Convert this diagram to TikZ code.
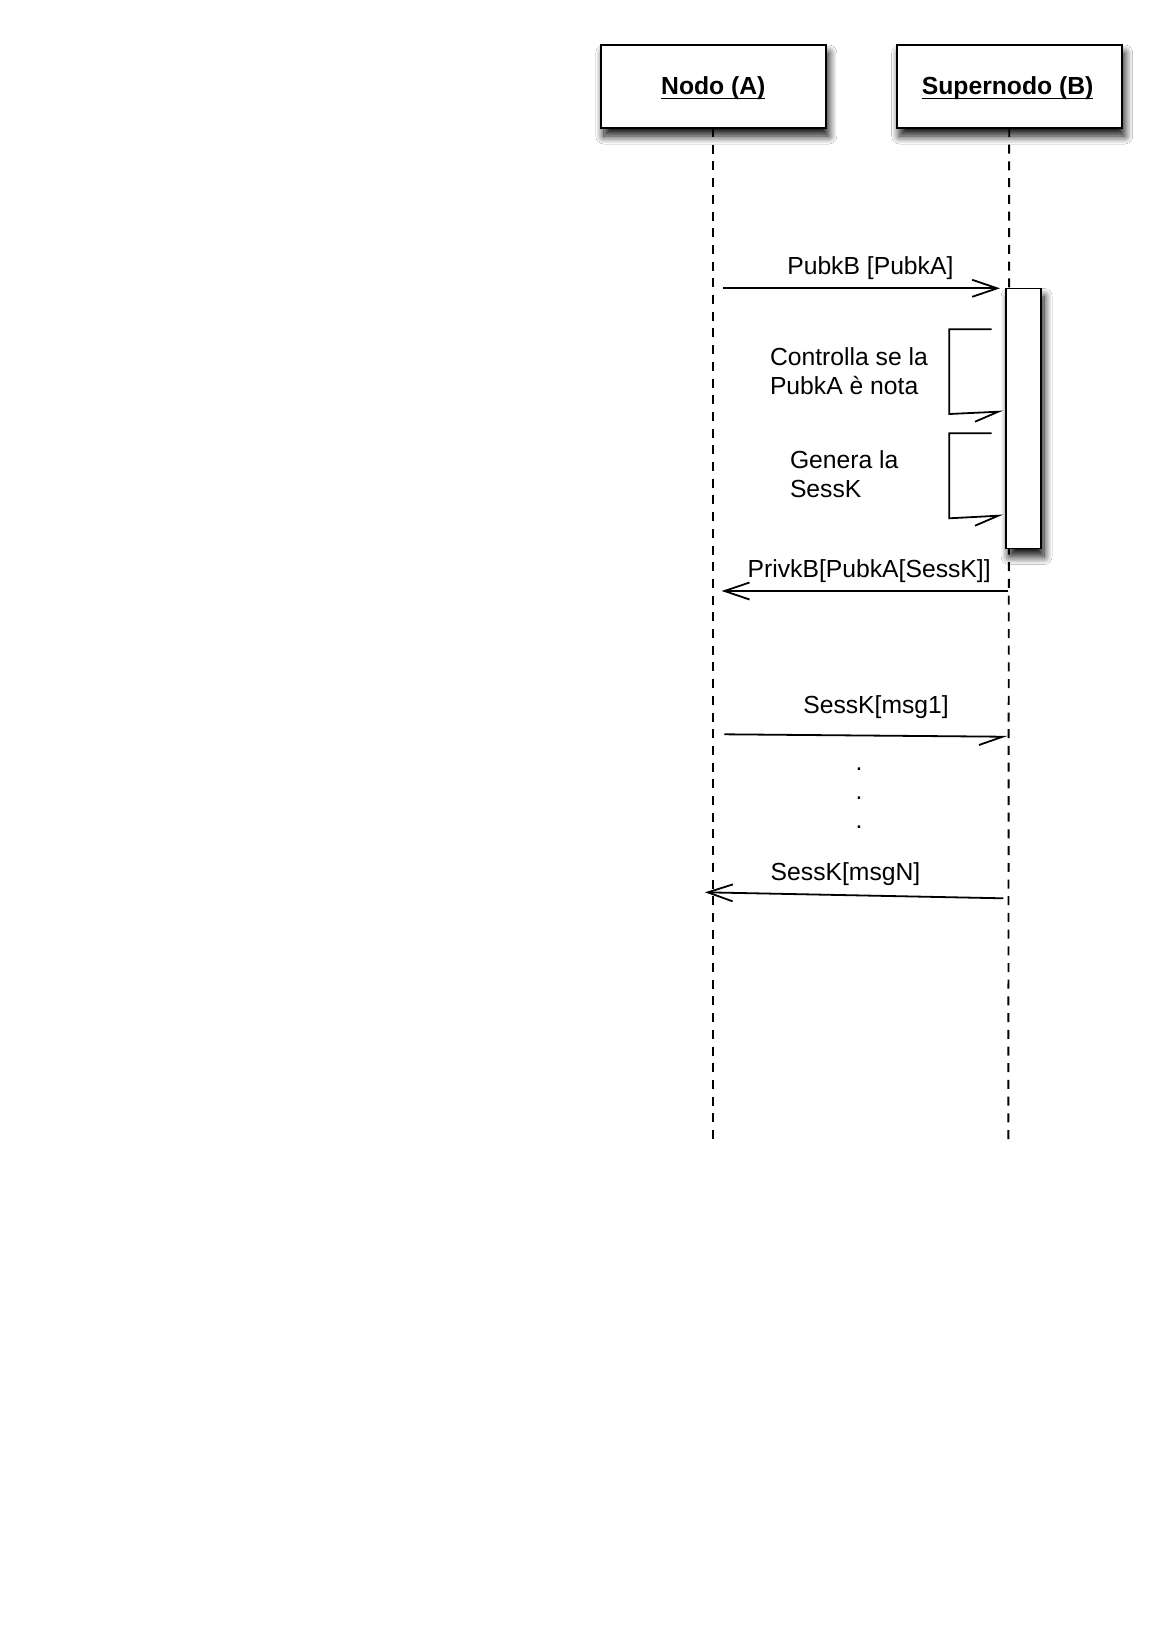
\documentclass[tikz,border=0pt]{standalone}
\usepackage{fontspec}
\setmainfont{Liberation Sans}
\usetikzlibrary{arrows.meta,shadows.blur}
\begin{document}
\begin{tikzpicture}[x=1pt,y=-1pt,
  every node/.style={font=\fontsize{24.7}{29.6}\selectfont, inner sep=0pt, outer sep=0pt},
  lbl/.style={anchor=base west},
  hdr/.style={anchor=base, font=\fontsize{24.7}{29.6}\selectfont\bfseries},
  shad/.style={blur shadow={shadow xshift=3pt, shadow yshift=-8pt, shadow blur radius=8pt, shadow opacity=95, shadow blur steps=14}},
  objbox/.style={draw, line width=1.9pt, fill=white, minimum width=225pt, minimum height=83pt, shad},
  actbox/.style={draw, line width=1.7pt, fill=white, minimum width=35pt, minimum height=260pt, shad},
  lifeline/.style={line width=1.9pt, dash pattern=on 9pt off 7.7pt},
  msg/.style={line width=1.8pt, -{Straight Barb[length=25pt,width=17pt]}},
  self/.style={line width=1.8pt, line join=miter}
]
\fill[white] (0,0) rectangle (1165,1631);
\useasboundingbox (0,0) rectangle (1165,1631);

% objects
\node[objbox] (boxA) at (713.3,86.5) {};
\node[objbox] (boxB) at (1009.2,86.5) {};
\node[hdr] (tA) at (713.3,94) {Nodo (A)};
\node[hdr] (tB) at (1007.6,94) {Supernodo (B)};
\draw[line width=1.6pt] ([yshift=-4.3pt]tA.base west) -- ([yshift=-4.3pt]tA.base east);
\draw[line width=1.6pt] ([yshift=-4.3pt]tB.base west) -- ([yshift=-4.3pt]tB.base east);

% lifelines
\coordinate (endA) at (713.3,1140);
\coordinate (endB) at (1008.3,1140);
\draw[lifeline] (boxA.south) -- (endA);
\draw[lifeline] (boxB.south) -- (endB);

% activation
\node[actbox] (act) at (1023.6,418.5) {};

% message 1
\coordinate (m1s) at (723.3,288.3);
\coordinate (m1e) at (1000,288.3);
\draw[msg] (m1s) -- (m1e);
\node[lbl] (l1) at (787.3,274.3) {PubkB [PubkA]};

% self message 1
\coordinate (s1a) at (991.7,329.3);
\coordinate (s1b) at (949.3,329.3);
\coordinate (s1c) at (949.3,414);
\coordinate (s1d) at (998.3,411.7);
\coordinate (s1e) at (975,421.7);
\draw[self] (s1a) -- (s1b) -- (s1c) -- (s1d) -- (s1e);
\node[lbl] (l2a) at (770,365) {Controlla se la};
\node[lbl] (l2b) at (770,394) {PubkA è nota};

% self message 2
\coordinate (s2a) at (991.7,433.3);
\coordinate (s2b) at (949.3,433.3);
\coordinate (s2c) at (949.3,518.3);
\coordinate (s2d) at (998.3,515.7);
\coordinate (s2e) at (975,525.7);
\draw[self] (s2a) -- (s2b) -- (s2c) -- (s2d) -- (s2e);
\node[lbl] (l3a) at (790,468.3) {Genera la};
\node[lbl] (l3b) at (790,497.3) {SessK};

% message 2
\coordinate (m2s) at (1008.3,591);
\coordinate (m2e) at (721.7,591);
\draw[msg] (m2s) -- (m2e);
\node[lbl] (l4) at (747.7,577.3) {PrivkB[PubkA[SessK]]};

% message 3
\coordinate (m3s) at (724.3,734.3);
\coordinate (m3e) at (1002.7,736.7);
\coordinate (m3b) at (979,745);
\draw[self] (m3s) -- (m3e) -- (m3b);
\node[lbl] (l5) at (803.3,713.3) {SessK[msg1]};

% dots
\node[lbl] (d1) at (855.5,770.6) {.};
\node[lbl] (d2) at (855.5,799.6) {.};
\node[lbl] (d3) at (855.5,828) {.};

% message N
\coordinate (m4s) at (1003.3,898.3);
\coordinate (m4e) at (705,892.3);
\draw[msg] (m4s) -- (m4e);
\node[lbl] (l6) at (770.7,880) {SessK[msgN]};
\end{tikzpicture}
\end{document}
